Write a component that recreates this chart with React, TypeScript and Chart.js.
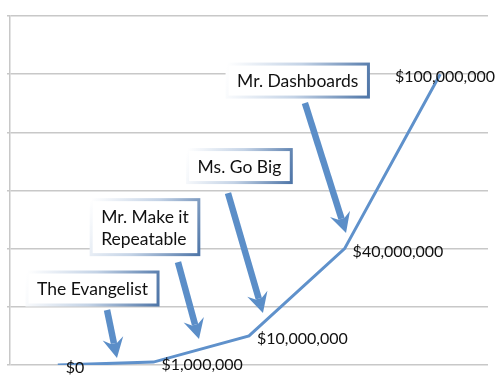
import React, { useEffect, useRef } from "react";
import { Chart, registerables } from "chart.js";

Chart.register(...registerables);

const categories = ["Stage 1", "Stage 2", "Stage 3", "Stage 4", "Stage 5"];
const revenue = [0, 1000000, 10000000, 40000000, 100000000];
const revenueLabels = ["$0", "$1,000,000", "$10,000,000", "$40,000,000", "$100,000,000"];

const personaNames = [["The Evangelist"], ["Mr. Make it", "Repeatable"], ["Ms. Go Big"], ["Mr. Dashboards"]];
// box centres and arrow ends in data space: [categoryIndex, value]
const personaBoxes = [[0.363, 26.3e6], [0.912, 47.4e6], [1.9, 68.4e6], [2.51, 97.8e6]];
const arrowTails = [[0.515, 18.9e6], [1.257, 35.4e6], [1.78, 59.1e6], [2.585, 90.1e6]];
const arrowTips = [[0.619, 2.4e6], [1.477, 8.9e6], [2.146, 17.9e6], [3.015, 45.4e6]];

const FONT = "Lato, 'Open Sans', sans-serif";
const BLUE = "#5b8ec8";

const overlay = {
  id: "overlay",
  afterDatasetsDraw(chart: any) {
    const ctx = chart.ctx;
    const xs = chart.scales.x;
    const ys = chart.scales.y;
    const px = (p: number[]) => [xs.getPixelForValue(p[0]), ys.getPixelForValue(p[1])];
    ctx.save();
    // data labels
    ctx.font = `16px ${FONT}`;
    ctx.fillStyle = "#111";
    ctx.textBaseline = "middle";
    const meta = chart.getDatasetMeta(0);
    meta.data.forEach((pt: any, i: number) => {
      const t = revenueLabels[i];
      const w = ctx.measureText(t).width;
      let x = pt.x + 8;
      if (x + w > chart.width - 5) x = chart.width - 5 - w;
      ctx.fillText(t, x, pt.y + 3);
    });
    // arrows
    arrowTails.forEach((tail, i) => {
      const [x1, y1] = px(tail);
      const [x2, y2] = px(arrowTips[i]);
      const ang = Math.atan2(y2 - y1, x2 - x1);
      const headLen = 20;
      const headW = 10.5;
      const bx = x2 - headLen * Math.cos(ang) * 0.75;
      const by = y2 - headLen * Math.sin(ang) * 0.75;
      ctx.strokeStyle = BLUE;
      ctx.lineWidth = 6.5;
      ctx.lineCap = "butt";
      ctx.beginPath();
      ctx.moveTo(x1, y1);
      ctx.lineTo(bx, by);
      ctx.stroke();
      ctx.fillStyle = BLUE;
      ctx.beginPath();
      const hx = x2 - headLen * Math.cos(ang);
      const hy = y2 - headLen * Math.sin(ang);
      const nx = -Math.sin(ang);
      const ny = Math.cos(ang);
      ctx.moveTo(x2, y2);
      ctx.lineTo(hx + nx * headW, hy + ny * headW);
      ctx.lineTo(bx + nx * 3.25, by + ny * 3.25);
      ctx.lineTo(bx - nx * 3.25, by - ny * 3.25);
      ctx.lineTo(hx - nx * headW, hy - ny * headW);
      ctx.closePath();
      ctx.fill();
    });
    // boxes
    ctx.font = `17.5px ${FONT}`;
    personaNames.forEach((lines, i) => {
      const [cx, cy] = px(personaBoxes[i]);
      const lh = 22;
      const tw = Math.max(...lines.map((l) => ctx.measureText(l).width));
      const w = tw + 20;
      const h = lines.length * lh + 11;
      const x0 = cx - w / 2;
      const y0 = cy - h / 2;
      ctx.fillStyle = "#fff";
      ctx.fillRect(x0, y0, w, h);
      const g = ctx.createLinearGradient(x0, y0, x0 + w, y0 + h);
      g.addColorStop(0, "rgba(255,255,255,1)");
      g.addColorStop(0.5, "#c4d3e6");
      g.addColorStop(1, "#4f76a8");
      ctx.strokeStyle = g;
      ctx.lineWidth = 3;
      ctx.strokeRect(x0, y0, w, h);
      ctx.fillStyle = "#111";
      ctx.textAlign = "left";
      lines.forEach((l, j) => {
        ctx.fillText(l, x0 + 10, y0 + 5.5 + lh / 2 + j * lh + 1);
      });
    });
    ctx.restore();
  },
};

export default function App() {
  const ref = useRef<HTMLCanvasElement | null>(null);
  useEffect(() => {
    const chart = new Chart(ref.current!, {
      type: "line",
      data: {
        labels: categories,
        datasets: [
          {
            data: revenue,
            borderColor: "#5f91cb",
            borderWidth: 3,
            pointRadius: 0,
            tension: 0,
            fill: false,
          },
        ],
      },
      options: {
        animation: false,
        responsive: false,
        maintainAspectRatio: false,
        layout: { padding: { top: 16, right: 12, bottom: 19, left: 0 } },
        plugins: { legend: { display: false }, tooltip: { enabled: false } },
        scales: {
          x: { display: false, offset: true },
          y: {
            min: 0,
            max: 120000000,
            ticks: { display: false, stepSize: 20000000 },
            grid: { color: "#c8c8c8", lineWidth: 1.5, tickLength: 3 },
            border: { color: "#c8c8c8", width: 1.5 },
            afterFit: (s: any) => {
              s.width = 10;
            },
          },
        },
      },
      plugins: [overlay],
    });
    return () => chart.destroy();
  }, []);
  return (
    <div style={{ position: "fixed", left: 0, top: 0, width: 500, height: 384, background: "#fff" }}>
      <canvas ref={ref} width={500} height={384} />
    </div>
  );
}
